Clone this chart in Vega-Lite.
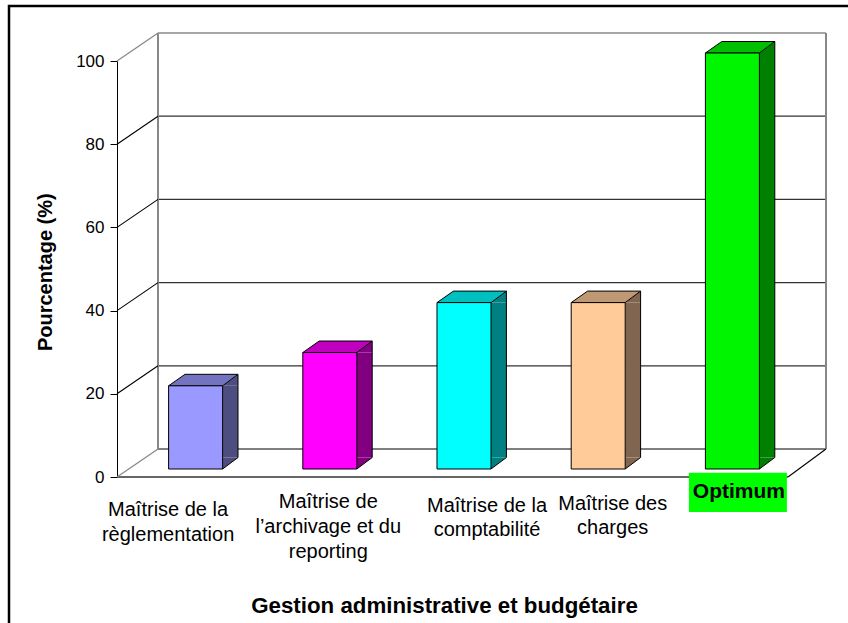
{
  "$schema": "https://vega.github.io/schema/vega-lite/v6.json",
  "width": 842,
  "height": 620,
  "autosize": {"type": "none"},
  "padding": {"left": 9, "top": 6, "right": -3, "bottom": -3},
  "background": "white",
  "config": {"view": {"stroke": "black", "strokeWidth": 2.5}, "font": "Liberation Sans"},
  "datasets": {
    "barres": [
      {"categorie": "Maîtrise de la règlementation", "etiquette": "Maîtrise de la\nrèglementation", "valeur": 20},
      {"categorie": "Maîtrise de l’archivage et du reporting", "etiquette": "Maîtrise de\nl’archivage et du\nreporting", "valeur": 28},
      {"categorie": "Maîtrise de la comptabilité", "etiquette": "Maîtrise de la\ncomptabilité", "valeur": 40},
      {"categorie": "Maîtrise des charges", "etiquette": "Maîtrise des\ncharges", "valeur": 40},
      {"categorie": "Optimum", "etiquette": "Optimum", "valeur": 100}
    ],
    "niveaux": [
      {"niveau": 0}, {"niveau": 20}, {"niveau": 40}, {"niveau": 60}, {"niveau": 80}, {"niveau": 100}
    ]
  },
  "resolve": {"scale": {"x": "independent"}},
  "layer": [
    {
      "data": {"name": "niveaux"},
      "layer": [
        {
          "transform": [{"filter": "datum.niveau > 0 && datum.niveau < 100"}],
          "mark": {"type": "rule", "xOffset": 41, "x2Offset": 38, "yOffset": -28, "stroke": "#333333", "strokeWidth": 1.3},
          "encoding": {
            "x": {"datum": 0, "type": "quantitative", "scale": {"domain": [0, 5], "range": [108, 779]}, "axis": null},
            "x2": {"datum": 5},
            "y": {
              "field": "niveau", "type": "quantitative",
              "scale": {"domain": [0, 100], "range": [471, 55], "nice": false},
              "axis": {
                "values": [0, 20, 40, 60, 80, 100], "offset": -108,
                "domain": true, "domainColor": "black", "domainWidth": 1,
                "ticks": true, "tickSize": 7, "tickColor": "black", "tickWidth": 1,
                "labelFontSize": 17, "labelColor": "black", "labelPadding": 6, "labelFont": "Liberation Sans",
                "grid": false,
                "title": "Pourcentage (%)", "titleFont": "Liberation Sans", "titleFontSize": 20, "titleFontWeight": "bold", "titleColor": "black",
                "titleX": -66, "titleY": 265.7, "titleAngle": -90, "titleAlign": "center", "titleBaseline": "alphabetic"
              }
            }
          }
        },
        {
          "transform": [{"filter": "datum.niveau == 0"}],
          "mark": {"type": "rule", "xOffset": 41, "x2Offset": 38, "yOffset": -28, "stroke": "#555555", "strokeWidth": 1.3},
          "encoding": {"x": {"datum": 0, "type": "quantitative"}, "x2": {"datum": 5}, "y": {"field": "niveau", "type": "quantitative"}}
        },
        {
          "transform": [{"filter": "datum.niveau == 100"}],
          "mark": {"type": "rule", "xOffset": 41, "x2Offset": 38, "yOffset": -28, "stroke": "#888888", "strokeWidth": 1.3},
          "encoding": {"x": {"datum": 0, "type": "quantitative"}, "x2": {"datum": 5}, "y": {"field": "niveau", "type": "quantitative"}}
        },
        {
          "transform": [{"filter": "datum.niveau == 0"}],
          "mark": {"type": "rule", "stroke": "#333333", "strokeWidth": 1.3},
          "encoding": {"x": {"datum": 0, "type": "quantitative"}, "x2": {"datum": 5}, "y": {"field": "niveau", "type": "quantitative"}}
        },
        {
          "mark": {"type": "rule", "xOffset": 41, "yOffset": -28, "y2Offset": -28, "stroke": "#888888", "strokeWidth": 1.3},
          "encoding": {"x": {"datum": 0, "type": "quantitative"}, "y": {"datum": 0, "type": "quantitative"}, "y2": {"datum": 100}}
        },
        {
          "mark": {"type": "rule", "xOffset": 38, "yOffset": -28, "y2Offset": -28, "stroke": "#888888", "strokeWidth": 1.3},
          "encoding": {"x": {"datum": 5, "type": "quantitative"}, "y": {"datum": 0, "type": "quantitative"}, "y2": {"datum": 100}}
        },
        {
          "transform": [{"filter": "datum.niveau > 0 && datum.niveau < 100"}],
          "mark": {"type": "rule", "x2Offset": 41, "y2Offset": -28, "stroke": "black", "strokeWidth": 1.1},
          "encoding": {"x": {"datum": 0, "type": "quantitative"}, "x2": {"datum": 0}, "y": {"field": "niveau", "type": "quantitative"}, "y2": {"field": "niveau"}}
        },
        {
          "transform": [{"filter": "datum.niveau == 0 || datum.niveau == 100"}],
          "mark": {"type": "rule", "x2Offset": 41, "y2Offset": -28, "stroke": "#888888", "strokeWidth": 1.3},
          "encoding": {"x": {"datum": 0, "type": "quantitative"}, "x2": {"datum": 0}, "y": {"field": "niveau", "type": "quantitative"}, "y2": {"field": "niveau"}}
        },
        {
          "transform": [{"filter": "datum.niveau == 0"}],
          "mark": {"type": "rule", "x2Offset": 38, "y2Offset": -28, "stroke": "black", "strokeWidth": 1.1},
          "encoding": {"x": {"datum": 5, "type": "quantitative"}, "x2": {"datum": 5}, "y": {"field": "niveau", "type": "quantitative"}, "y2": {"field": "niveau"}}
        }
      ]
    },
    {
      "data": {"name": "barres"},
      "resolve": {"scale": {"color": "independent", "fill": "independent", "stroke": "independent"}},
      "encoding": {
        "x": {
          "field": "categorie", "type": "nominal", "sort": null,
          "scale": {
            "domain": ["Maîtrise de la règlementation", "Maîtrise de l’archivage et du reporting", "Maîtrise de la comptabilité", "Maîtrise des charges", "Optimum"],
            "range": [108, 779], "paddingInner": 0.5976, "paddingOuter": 0.2988
          },
          "axis": {
            "labels": false, "ticks": false, "grid": false, "domain": false,
            "title": "Gestion administrative et budgétaire", "titleFont": "Liberation Sans", "titleFontSize": 22.3, "titleFontWeight": "bold", "titleColor": "black",
            "titleX": 435, "titleY": 606, "titleAlign": "center", "titleBaseline": "alphabetic", "titleAngle": 0
          }
        }
      },
      "layer": [
        {
          "mark": {"type": "rule", "strokeWidth": 15.4, "strokeCap": "butt", "xOffset": 46.2, "yOffset": -8, "y2Offset": -19.5},
          "encoding": {
            "y": {"field": "valeur", "type": "quantitative"},
            "y2": {"datum": 0},
            "stroke": {"field": "categorie", "type": "nominal", "sort": null, "scale": {"domain": ["Maîtrise de la règlementation", "Maîtrise de l’archivage et du reporting", "Maîtrise de la comptabilité", "Maîtrise des charges", "Optimum"], "range": ["#4D4D80", "#800080", "#008080", "#806650", "#008000"]}, "legend": null}
          }
        },
        {
          "mark": {"type": "point", "shape": "M38.5,-8L53.9,-19.5L53.9,-8Z", "size": 4, "filled": true, "opacity": 1, "strokeWidth": 0},
          "encoding": {
            "y": {"field": "valeur", "type": "quantitative"},
            "color": {"field": "categorie", "type": "nominal", "sort": null, "scale": {"domain": ["Maîtrise de la règlementation", "Maîtrise de l’archivage et du reporting", "Maîtrise de la comptabilité", "Maîtrise des charges", "Optimum"], "range": ["#4D4D80", "#800080", "#008080", "#806650", "#008000"]}, "legend": null}
          }
        },
        {
          "mark": {"type": "point", "shape": "M38.5,-19.5L38.5,-8L53.9,-19.5Z", "size": 4, "filled": true, "opacity": 1, "strokeWidth": 0},
          "encoding": {
            "y": {"datum": 0, "type": "quantitative"},
            "color": {"field": "categorie", "type": "nominal", "sort": null, "scale": {"domain": ["Maîtrise de la règlementation", "Maîtrise de l’archivage et du reporting", "Maîtrise de la comptabilité", "Maîtrise des charges", "Optimum"], "range": ["#4D4D80", "#800080", "#008080", "#806650", "#008000"]}, "legend": null}
          }
        },
        {
          "mark": {"type": "point", "shape": "M-15.5,-8L38.5,-8L53.9,-19.5L0.9,-19.5Z", "size": 4, "filled": true, "opacity": 1, "stroke": "black", "strokeWidth": 1},
          "encoding": {
            "y": {"field": "valeur", "type": "quantitative"},
            "fill": {"field": "categorie", "type": "nominal", "sort": null, "scale": {"domain": ["Maîtrise de la règlementation", "Maîtrise de l’archivage et du reporting", "Maîtrise de la comptabilité", "Maîtrise des charges", "Optimum"], "range": ["#7373BF", "#BF00BF", "#00BFBF", "#BF9973", "#00BF00"]}, "legend": null}
          }
        },
        {
          "mark": {"type": "bar", "xOffset": 11.5, "yOffset": -8, "y2Offset": -8, "stroke": "black", "strokeWidth": 1, "opacity": 1},
          "encoding": {
            "y": {"field": "valeur", "type": "quantitative"},
            "fill": {"field": "categorie", "type": "nominal", "sort": null, "scale": {"domain": ["Maîtrise de la règlementation", "Maîtrise de l’archivage et du reporting", "Maîtrise de la comptabilité", "Maîtrise des charges", "Optimum"], "range": ["#9999FF", "#FF00FF", "#00FFFF", "#FFCC99", "#00F500"]}, "legend": null}
          }
        },
        {
          "mark": {"type": "rule", "xOffset": 53.9, "yOffset": -19.5, "y2Offset": -19.5, "color": "black", "strokeWidth": 1},
          "encoding": {"y": {"field": "valeur", "type": "quantitative"}, "y2": {"datum": 0}}
        },
        {
          "mark": {"type": "point", "shape": "M38.5,-8L53.9,-19.5", "size": 4, "filled": false, "opacity": 1, "color": "black", "strokeWidth": 1},
          "encoding": {"y": {"datum": 0, "type": "quantitative"}}
        },
        {
          "transform": [{"filter": {"field": "categorie", "equal": "Optimum"}}],
          "mark": {"type": "point", "shape": "M-32,-4.3H66V35H-32Z", "size": 4, "filled": true, "opacity": 1, "color": "#00FF00", "strokeWidth": 0},
          "encoding": {"y": {"datum": 0, "type": "quantitative"}}
        },
        {
          "transform": [{"filter": {"field": "categorie", "equal": "Maîtrise de la règlementation"}}],
          "mark": {"type": "text", "dx": -16, "dy": 39, "align": "center", "baseline": "alphabetic", "lineBreak": "\n", "lineHeight": 24.5, "fontSize": 20, "font": "Liberation Sans", "color": "black"},
          "encoding": {"y": {"datum": 0, "type": "quantitative"}, "text": {"field": "etiquette"}}
        },
        {
          "transform": [{"filter": {"field": "categorie", "equal": "Maîtrise de l’archivage et du reporting"}}],
          "mark": {"type": "text", "dx": 10, "dy": 31, "align": "center", "baseline": "alphabetic", "lineBreak": "\n", "lineHeight": 25, "fontSize": 20, "font": "Liberation Sans", "color": "black"},
          "encoding": {"y": {"datum": 0, "type": "quantitative"}, "text": {"field": "etiquette"}}
        },
        {
          "transform": [{"filter": {"field": "categorie", "equal": "Maîtrise de la comptabilité"}}],
          "mark": {"type": "text", "dx": 34.5, "dy": 35, "align": "center", "baseline": "alphabetic", "lineBreak": "\n", "lineHeight": 23.5, "fontSize": 20, "font": "Liberation Sans", "color": "black"},
          "encoding": {"y": {"datum": 0, "type": "quantitative"}, "text": {"field": "etiquette"}}
        },
        {
          "transform": [{"filter": {"field": "categorie", "equal": "Maîtrise des charges"}}],
          "mark": {"type": "text", "dx": 26, "dy": 33, "align": "center", "baseline": "alphabetic", "lineBreak": "\n", "lineHeight": 23.5, "fontSize": 20, "font": "Liberation Sans", "color": "black"},
          "encoding": {"y": {"datum": 0, "type": "quantitative"}, "text": {"field": "etiquette"}}
        },
        {
          "transform": [{"filter": {"field": "categorie", "equal": "Optimum"}}],
          "mark": {"type": "text", "dx": 18, "dy": 20.7, "align": "center", "baseline": "alphabetic", "fontSize": 21, "fontWeight": "bold", "font": "Liberation Sans", "color": "black"},
          "encoding": {"y": {"datum": 0, "type": "quantitative"}, "text": {"field": "etiquette"}}
        }
      ]
    }
  ]
}
